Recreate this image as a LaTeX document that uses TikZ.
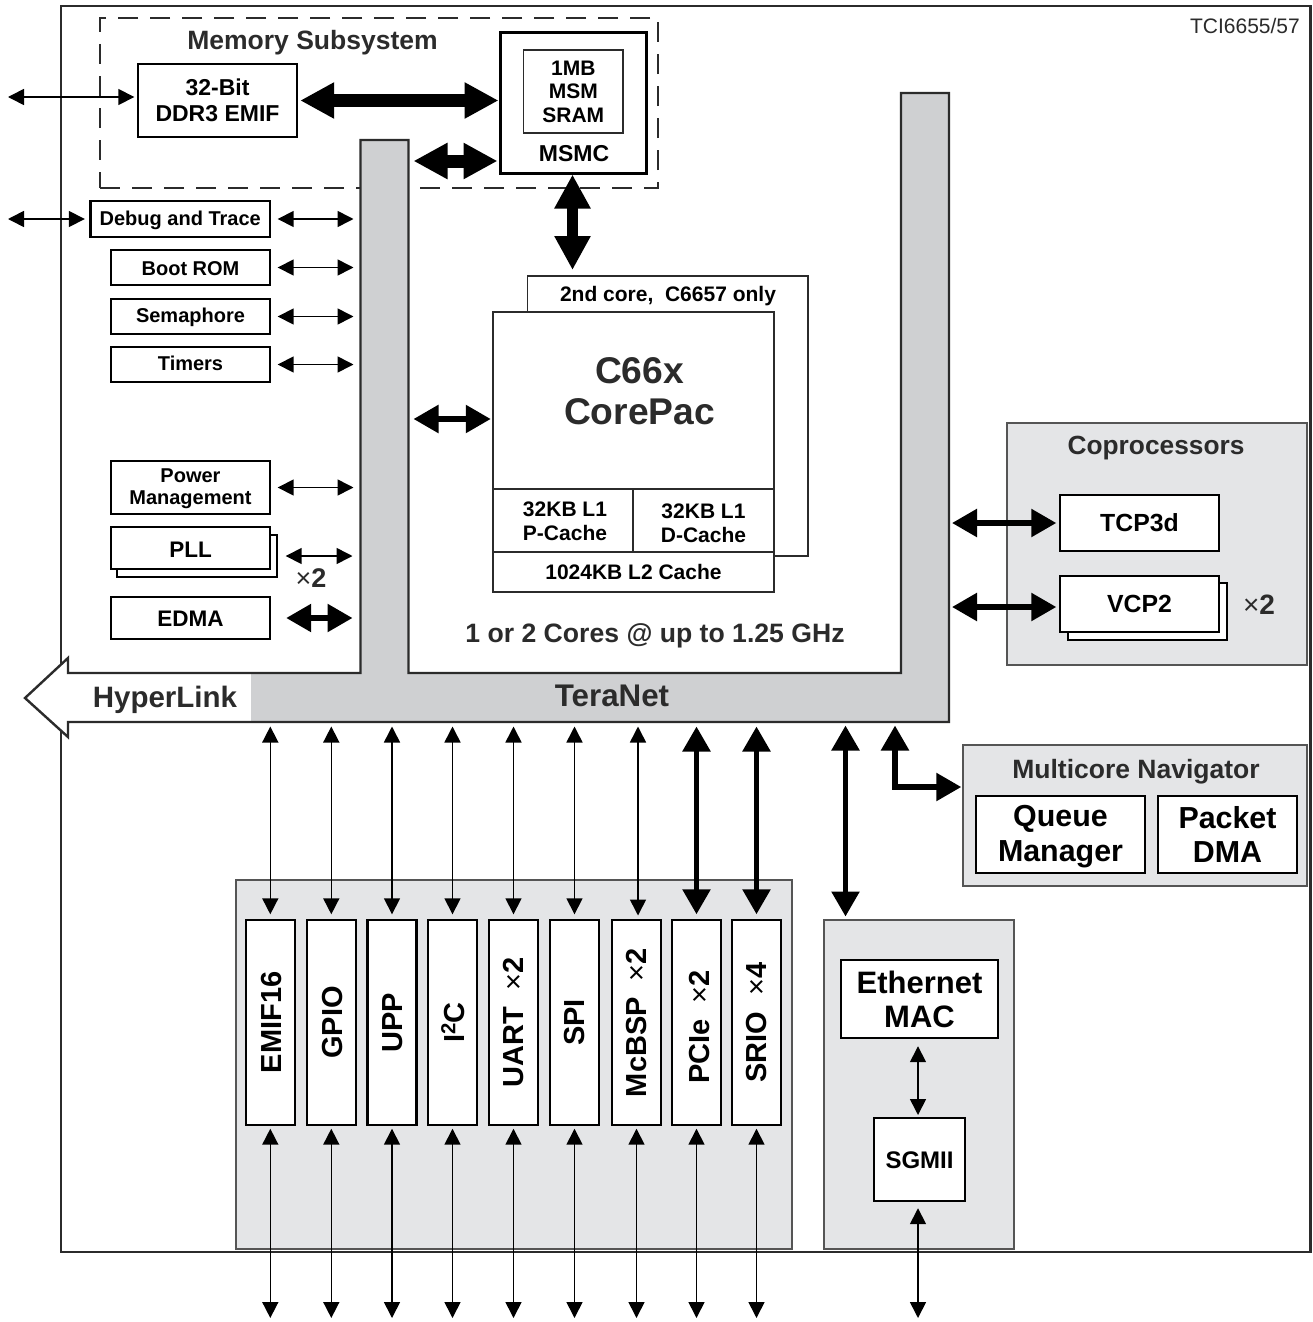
\documentclass[tikz,border=0pt]{standalone}
\usepackage{fontspec}
\setmainfont{Liberation Sans}
\usetikzlibrary{arrows.meta,calc}
\definecolor{busgray}{HTML}{CFD0D2}
\definecolor{panelgray}{HTML}{E4E5E7}
\definecolor{inkgray}{HTML}{2B2B2B}
\definecolor{edgegray}{HTML}{555555}
\newcommand\fsz[2]{\fontsize{#1}{#2}\selectfont\bfseries}
\newcommand\tms{{\fontseries{m}\selectfont ×}}
\newcommand\rot[1]{\rotatebox{90}{#1}}
\newcommand\nudge[2]{\raisebox{-#1}[\height][\depth]{#2}}
\newcommand\twol[2]{\begin{tabular}{@{}c@{}}#1\\#2\end{tabular}}
\tikzset{
  box/.style={draw=black,fill=white,line width=2.4pt,inner sep=0pt,align=center,text=black},
  thinbox/.style={draw=inkgray,fill=white,line width=1.5pt,inner sep=0pt,align=center,text=black},
  panel/.style={draw=edgegray,fill=panelgray,line width=1.4pt,inner sep=0pt},
  lbl/.style={inner sep=0pt,align=center,text=inkgray},
  thinar/.style={line width=1.6pt,black,{Triangle[length=16pt,width=16pt]}-{Triangle[length=16pt,width=16pt]}},
  medar/.style={line width=5.5pt,black,{Triangle[length=25pt,width=27pt]}-{Triangle[length=25pt,width=27pt]}},
  bigar/.style={line width=13pt,black,{Triangle[length=34pt,width=34pt]}-{Triangle[length=34pt,width=34pt]}},
}
\begin{document}
\begin{tikzpicture}[x=1pt,y=-1pt]
\useasboundingbox (0,0) rectangle (1312,1322);
\fill[white] (0,0) rectangle (1312,1322);
% frame
\node[draw=inkgray,line width=2.5pt,inner sep=0pt,minimum width=1249.5pt,minimum height=1246pt] (frame) at (685.5,629) {};
\node[lbl,anchor=east,font=\fontsize{21}{24}\selectfont] (tci) at (1300,26) {TCI6655/57};
% panels
\node[panel,minimum width=300pt,minimum height=242pt] (cop) at (1157,544) {};
\node[panel,minimum width=344pt,minimum height=141pt] (nav) at (1135,815.5) {};
\node[panel,minimum width=556pt,minimum height=369pt] (periph) at (514,1064.5) {};
\node[panel,minimum width=190pt,minimum height=329pt] (ethp) at (919,1084.5) {};
% memory subsystem
\node[draw=inkgray,line width=2.4pt,dash pattern=on 20pt off 12pt,inner sep=0pt,minimum width=558pt,minimum height=170pt] (mem) at (379,103) {};
\node[lbl,font=\fsz{26.5}{30}] (memt) at (312.5,43) {Memory Subsystem};
% TeraNet / HyperLink
\coordinate (busL) at (360.5,140);
\coordinate (busLr) at (408.5,140);
\coordinate (busR) at (949,93);
\coordinate (busB) at (0,722);
\path[fill=white] (25,698) -- (68,658) -- (68,673) -- (251,673) -- (251,722) -- (68,722) -- (68,737) -- cycle;
\path[fill=busgray] (251,673) -- (360.5,673) -- (360.5,140) -- (408.5,140) -- (408.5,673) -- (901,673) -- (901,93) -- (949,93) -- (949,722) -- (251,722) -- cycle;
\draw[draw=inkgray,line width=2.4pt,line join=miter] (25,698) -- (68,658) -- (68,673) -- (360.5,673) -- (360.5,140) -- (408.5,140) -- (408.5,673) -- (901,673) -- (901,93) -- (949,93) -- (949,722) -- (68,722) -- (68,737) -- cycle;
\node[lbl,font=\fsz{29.5}{32}] (hyper) at (165,700) {HyperLink};
\node[lbl,font=\fsz{31.3}{34}] (tera) at (612,696) {TeraNet};
% memory boxes
\node[box,minimum width=159pt,minimum height=73pt,font=\fsz{23}{26}] (ddr) at (217.5,100.5) {32-Bit\\DDR3 EMIF};
\node[box,line width=3pt,minimum width=146.5pt,minimum height=140pt] (msmc) at (573.25,103) {};
\node[thinbox,line width=1.2pt,minimum width=99.5pt,minimum height=83pt,font=\fsz{21}{23.5}] (sram) at (573.25,91.5) {1MB\\MSM\\SRAM};
\node[lbl,text=black,font=\fsz{23}{26}] (msmct) at (574,154) {MSMC};
% left column
\node[box,minimum width=179.5pt,minimum height=36pt,font=\fsz{20}{24}] (debug) at (180.25,219) {\nudge{1pt}{Debug and Trace}};
\node[box,minimum width=159pt,minimum height=35pt,font=\fsz{20}{24}] (boot) at (190.5,267.5) {\nudge{1pt}{Boot ROM}};
\node[box,minimum width=159pt,minimum height=35pt,font=\fsz{20}{24}] (sema) at (190.5,316.5) {\nudge{1pt}{Semaphore}};
\node[box,minimum width=159pt,minimum height=35pt,font=\fsz{20}{24}] (timers) at (190.5,364.5) {\nudge{-1pt}{Timers}};
\node[box,minimum width=159pt,minimum height=53pt,font=\fsz{20}{22}] (power) at (190.5,487.5) {\nudge{1.3pt}{\twol{Power}{Management}}};
\node[box,minimum width=160pt,minimum height=42pt] (pllb) at (197,556) {};
\node[box,minimum width=159pt,minimum height=42pt,font=\fsz{22.5}{26}] (pll) at (190.5,548) {\nudge{1.5pt}{PLL}};
\node[lbl,font=\fsz{27}{30}] (pllx) at (311,578) {\tms2};
\node[box,minimum width=159pt,minimum height=42pt,font=\fsz{22.5}{26}] (edma) at (190.5,618) {\nudge{1pt}{EDMA}};
% core
\node[thinbox,minimum width=280.5pt,minimum height=280pt] (core2) at (667.75,416) {};
\node[lbl,text=black,font=\fsz{21}{24}] (core2t) at (668,296) {2nd core,\ \ C6657 only};
\node[thinbox,minimum width=281pt,minimum height=280pt] (core) at (633.5,452) {};
\node[lbl,font=\fsz{37.2}{41.5}] (corept) at (639.5,391) {C66x\\CorePac};
\node[thinbox,line width=1.2pt,minimum width=140pt,minimum height=63pt,font=\fsz{21}{24}] (l1p) at (563,520.5) {\hspace*{4pt}\nudge{3.3pt}{\twol{32KB L1}{P-Cache}}};
\node[thinbox,line width=1.2pt,minimum width=141pt,minimum height=63pt,font=\fsz{21}{24}] (l1d) at (703.5,520.5) {\nudge{5.3pt}{\twol{32KB L1}{D-Cache}}};
\node[thinbox,minimum width=281pt,minimum height=40pt,font=\fsz{21}{24}] (l2) at (633.5,572) {1024KB L2 Cache};
\node[lbl,text=inkgray,font=\fsz{26.6}{30}] (cores) at (655,636) {1 or 2 Cores @ up to 1.25 GHz};
% coprocessors
\node[lbl,font=\fsz{26.3}{30}] (copt) at (1156,448.5) {Coprocessors};
\node[box,minimum width=159pt,minimum height=56pt,font=\fsz{24.8}{28}] (tcp) at (1139.5,523) {TCP3d};
\node[box,minimum width=159pt,minimum height=57pt] (vcpb) at (1147.5,611.5) {};
\node[box,minimum width=159pt,minimum height=56pt,font=\fsz{24.8}{28}] (vcp) at (1139.5,604) {VCP2};
\node[lbl,font=\fsz{28}{30}] (vcpx) at (1259,605) {\tms2};
% navigator
\node[lbl,font=\fsz{26.5}{30}] (navt) at (1136,772) {Multicore Navigator};
\node[box,minimum width=169pt,minimum height=77pt,font=\fsz{30.4}{34.5}] (qm) at (1060.5,834.5) {\nudge{2.5pt}{\twol{Queue}{Manager}}};
\node[box,minimum width=139pt,minimum height=77pt,font=\fsz{30.4}{34.5}] (pdma) at (1227.5,834.5) {\nudge{4pt}{\twol{Packet}{DMA}}};
% peripherals
\tikzset{pbox/.style={box,minimum width=49pt,minimum height=205pt,font=\fsz{29}{30}}}
\node[pbox] (emif) at (270.3,1022.5) {\rot{\nudge{1pt}{EMIF16}}};
\node[pbox] (gpio) at (331.3,1022.5) {\rot{\nudge{1pt}{GPIO}}};
\node[pbox] (upp) at (392,1022.5) {\rot{\nudge{0.5pt}{UPP}}};
\node[pbox] (iic) at (452.5,1022.5) {\rot{\nudge{0.5pt}{I\textsuperscript{2}C}}};
\node[pbox] (uart) at (513.5,1022.5) {\rot{UART\ \ \tms2}};
\node[pbox] (spi) at (574.5,1022.5) {\rot{\nudge{0.5pt}{SPI}}};
\node[pbox] (mcbsp) at (636.5,1022.5) {\rot{McBSP\ \ \tms2}};
\node[pbox] (pcie) at (696.5,1022.5) {\rot{\nudge{3pt}{PCIe\ \ \tms2}\hspace*{9pt}}};
\node[pbox] (srio) at (756.5,1022.5) {\rot{SRIO\ \ \tms4}};
% ethernet
\node[box,minimum width=157pt,minimum height=78pt,font=\fsz{31}{34}] (emac) at (919.5,999) {Ethernet\\MAC};
\node[box,minimum width=91pt,minimum height=83pt,font=\fsz{24}{28}] (sgmii) at (919.5,1159.5) {\nudge{1pt}{SGMII}};
% free ends
\coordinate (pinY) at (0,1318);
\coordinate (extL) at (8,0);
\coordinate (navup) at (895,722);
\coordinate (ethup) at (845.5,722);
\coordinate (ethdn) at (845.5,920);
% connectors
\draw[thinar,shorten >=2.5pt] ([yshift=3.5pt]extL |- ddr.west) -- ([yshift=3.5pt]ddr.west);
\draw[bigar,shorten <=2pt] (ddr.east) -- (msmc.west |- ddr.east);
\draw[bigar,shorten <=5pt,shorten >=1pt] (busLr |- 0,161) -- (msmc.west |- 0,161);
\draw[bigar,line width=11pt] (msmc.south -| 572.5,0) -- (572.5,270);
\draw[thinar,shorten >=4.5pt] (extL |- debug.west) -- (debug.west);
\draw[thinar,shorten <=6.5pt,shorten >=7pt] (debug.east) -- (debug.east -| busL);
\draw[thinar,shorten <=6.5pt,shorten >=7pt] (boot.east) -- (boot.east -| busL);
\draw[thinar,shorten <=6.5pt,shorten >=7pt] (sema.east) -- (sema.east -| busL);
\draw[thinar,shorten <=6.5pt,shorten >=7pt] (timers.east) -- (timers.east -| busL);
\draw[thinar,shorten <=6.5pt,shorten >=7pt] (power.east) -- (power.east -| busL);
\draw[thinar,shorten <=14.5pt,shorten >=8pt] (pll.east |- 0,556) -- (busL |- 0,556);
\draw[medar,shorten <=15pt,shorten >=8pt] (edma.east) -- (edma.east -| busL);
\draw[medar,shorten <=5pt,shorten >=1.5pt] (busLr |- 0,419) -- (core.west |- 0,419);
\draw[medar,shorten <=3pt,shorten >=2.5pt] (busR |- tcp.west) -- (tcp.west);
\draw[medar,shorten <=3pt,shorten >=2.5pt] (busR |- 0,607) -- (vcp.west |- 0,607);
\draw[medar,shorten <=3.5pt,shorten >=1pt] (navup) |- ([yshift=28.5pt]nav.west);
\draw[medar,shorten <=3.5pt,shorten >=3.5pt] (ethup) -- (ethdn);
\foreach \n in {emif,gpio,upp,iic,uart,spi}{
  \draw[thinar,shorten <=4.5pt,shorten >=4.5pt] (\n.north |- busB) -- (\n.north);
  \draw[thinar,shorten <=2.5pt] (\n.south) -- (\n.south |- pinY);
}
\draw[thinar,shorten <=4.5pt,shorten >=4.5pt] (638,722) -- (638,920);
\draw[thinar,shorten <=2.5pt] (mcbsp.south) -- (mcbsp.south |- pinY);
\foreach \n in {pcie,srio}{
  \draw[medar,shorten <=4.5pt,shorten >=4.5pt] (\n.north |- busB) -- (\n.north);
  \draw[thinar,shorten <=2.5pt] (\n.south) -- (\n.south |- pinY);
}
\draw[thinar,shorten <=7pt,shorten >=3pt] (emac.south -| 918,0) -- (918,1118);
\draw[thinar,shorten <=6pt] (sgmii.south -| 918,0) -- (918,1318);
\end{tikzpicture}
\end{document}
